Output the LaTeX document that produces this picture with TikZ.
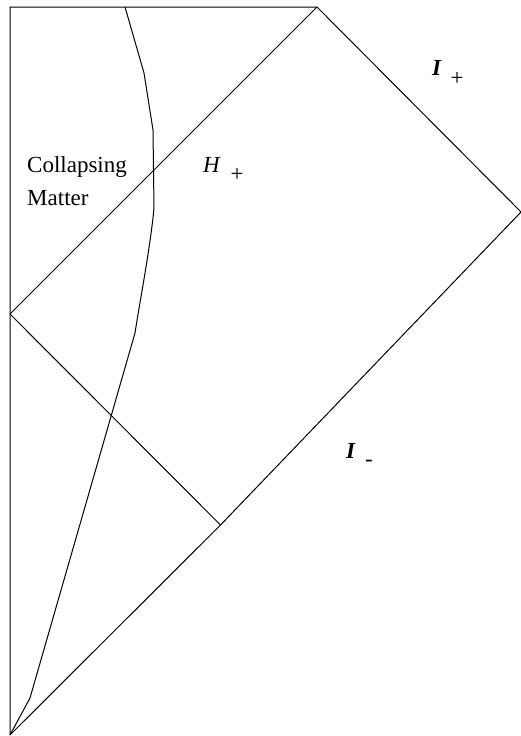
\documentclass[tikz,border=0pt]{standalone}
\usepackage{fontspec}
\setmainfont{Liberation Serif}
\begin{document}
\begin{tikzpicture}[x=1pt,y=-1pt,
  edge/.style={line width=1pt,black},
  lbl/.style={inner sep=0pt,font=\fontsize{23}{27}\selectfont},
  sym/.style={inner sep=0pt,font=\fontsize{23}{27}\selectfont}]
\useasboundingbox (0,0) rectangle (521,736);
\coordinate (tl) at (10,7);
\coordinate (apex) at (317,7);
\coordinate (rc) at (521,212);
\coordinate (lc) at (10,314);
\coordinate (bc) at (220.5,525);
\coordinate (bot) at (10,735);
\draw[edge] (bot) -- (tl) -- (apex) -- (rc) -- (bc) -- (bot);
\draw[edge] (lc) -- (apex);
\draw[edge] (lc) -- (bc);
\draw[edge] (125,7) -- (144,73) -- (153,130) -- (154,208) .. controls (150,250) and (140,300) .. (135,333) -- (30,698) -- (bot);
\node[lbl,anchor=base west] (c1) at (27,172) {Collapsing};
\node[lbl,anchor=base west] (c2) at (27,205) {Matter};
\node[sym,anchor=base west] (h) at (203,172) {\textit{H}};
\node[sym] (hp) at (237,175) {+};
\node[sym,anchor=base west] (ip) at (432,75) {\textbf{\textit{I}}};
\node[sym] (ipp) at (457,79) {+};
\node[sym,anchor=base west] (im) at (346,458) {\textbf{\textit{I}}};
\node[sym] (imm) at (369,463) {-};
\end{tikzpicture}
\end{document}
